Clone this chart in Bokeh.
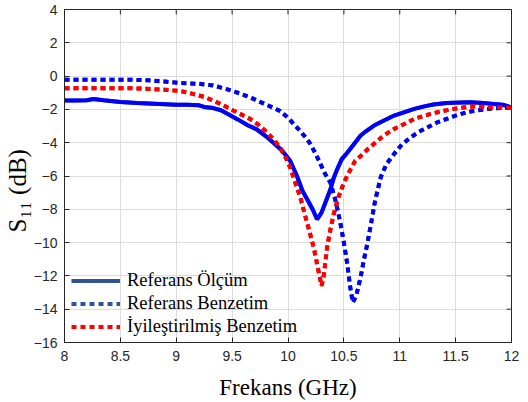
import math
from bokeh.plotting import figure
from bokeh.models import Range1d, Legend, LegendItem, FixedTicker, Title
from bokeh.embed import file_html
from bokeh.resources import INLINE

# ---------------- data ----------------
x_ticks = [8, 8.5, 9, 9.5, 10, 10.5, 11, 11.5, 12]
y_ticks = [4, 2, 0, -2, -4, -6, -8, -10, -12, -14, -16]

olcum_f = [8.0, 8.1, 8.2, 8.26, 8.35, 8.5, 8.65, 8.8, 9.0, 9.1, 9.2, 9.25, 9.33, 9.4,
           9.47, 9.55, 9.64, 9.72, 9.8, 9.87, 9.95, 10.02, 10.08, 10.13, 10.18, 10.22,
           10.26, 10.3, 10.34, 10.38, 10.41, 10.44, 10.48, 10.53, 10.6, 10.65, 10.7,
           10.77, 10.85, 10.95, 11.05, 11.13, 11.22, 11.3, 11.42, 11.55, 11.63, 11.75,
           11.84, 11.92, 12.0]
olcum_s = [-1.47, -1.47, -1.45, -1.38, -1.45, -1.55, -1.62, -1.66, -1.72, -1.72, -1.75,
           -1.85, -1.92, -2.05, -2.3, -2.6, -2.95, -3.2, -3.6, -4.0, -4.5, -5.1, -6.0,
           -6.9, -7.5, -8.0, -8.6, -8.2, -7.5, -6.8, -6.1, -5.6, -5.0, -4.6, -4.0,
           -3.57, -3.3, -2.97, -2.7, -2.37, -2.15, -1.97, -1.82, -1.71, -1.62, -1.58,
           -1.57, -1.62, -1.67, -1.72, -1.88]

ref_f = [8.0, 8.3, 8.6, 8.75, 8.9, 9.05, 9.2, 9.33, 9.45, 9.55, 9.66, 9.75, 9.85, 9.93,
         10.0, 10.05, 10.11, 10.16, 10.2, 10.25, 10.29, 10.33, 10.38, 10.43, 10.47, 10.5,
         10.53, 10.555, 10.58, 10.61, 10.65, 10.68, 10.71, 10.75, 10.78, 10.83, 10.88,
         10.95, 11.02, 11.1, 11.17, 11.25, 11.33, 11.42, 11.5, 11.6, 11.7, 11.78, 11.9, 12.0]
ref_s = [-0.22, -0.22, -0.22, -0.25, -0.33, -0.42, -0.46, -0.56, -0.78, -1.0, -1.27,
         -1.55, -1.85, -2.1, -2.5, -2.87, -3.3, -3.7, -4.07, -4.7, -5.27, -5.85, -6.4,
         -7.6, -8.87, -10.0, -11.27, -12.6, -13.6, -13.2, -12.08, -11.0, -10.07, -8.6,
         -7.47, -6.07, -5.3, -4.67, -4.1, -3.67, -3.35, -3.07, -2.8, -2.57, -2.37, -2.17,
         -2.05, -1.97, -1.92, -1.9]

iyi_f = [8.0, 8.3, 8.59, 8.77, 8.9, 9.04, 9.15, 9.25, 9.33, 9.42, 9.51, 9.58, 9.66, 9.73,
         9.8, 9.87, 9.93, 9.98, 10.02, 10.06, 10.11, 10.15, 10.19, 10.23, 10.26, 10.3,
         10.32, 10.35, 10.38, 10.41, 10.45, 10.5, 10.56, 10.6, 10.65, 10.72, 10.77, 10.85,
         10.95, 11.05, 11.13, 11.22, 11.3, 11.4, 11.48, 11.57, 11.66, 11.75, 11.84, 12.0]
iyi_s = [-0.73, -0.73, -0.73, -0.77, -0.82, -0.9, -1.07, -1.25, -1.47, -1.75, -2.07, -2.3,
         -2.57, -2.9, -3.3, -3.8, -4.3, -4.9, -5.5, -6.3, -7.27, -8.3, -9.27, -10.3,
         -11.27, -12.6, -12.0, -10.27, -9.2, -8.27, -7.3, -6.4, -5.6, -5.1, -4.8, -4.35,
         -4.07, -3.6, -3.17, -2.85, -2.57, -2.38, -2.23, -2.08, -1.97, -1.88, -1.83,
         -1.84, -1.87, -1.9]

legend_labels = ["Referans Ölçüm", "Referans Benzetim", "İyileştirilmiş Benzetim"]
x_title = "Frekans (GHz)"
y_title = "S\u2081\u2081 (dB)"

# ---------------- figure ----------------
AX = "#262626"
FW, FH = 447, 333
BL, BT, BR, BB = 64, 9, 9, 58
X0, X1 = x_ticks[0], x_ticks[-1]
Y0, Y1 = y_ticks[-1], y_ticks[0]

p = figure(frame_width=FW, frame_height=FH,
           min_border_left=BL, min_border_right=BR, min_border_top=BT, min_border_bottom=BB,
           x_range=Range1d(X0, X1), y_range=Range1d(Y0, Y1),
           output_backend="svg", toolbar_location=None)
p.background_fill_color = "white"
p.border_fill_color = "white"
p.outline_line_color = AX
p.outline_line_width = 1

xt = FixedTicker(ticks=x_ticks)
yt = FixedTicker(ticks=y_ticks)
for ax in (p.xaxis[0], p.yaxis[0]):
    ax.major_tick_in = 5
    ax.major_tick_out = 0
    ax.minor_tick_line_color = None
    ax.axis_line_color = AX
    ax.major_tick_line_color = AX
    ax.major_label_text_font = "Liberation Sans"
    ax.major_label_text_font_size = "14px"
    ax.major_label_text_color = AX
p.xaxis.ticker = xt
p.yaxis.ticker = yt
p.xaxis.major_label_standoff = 8
p.yaxis.major_label_standoff = 7

p.xaxis.axis_label = x_title
p.xaxis.axis_label_text_font = "Liberation Serif"
p.xaxis.axis_label_text_font_size = "23px"
p.xaxis.axis_label_text_font_style = "normal"
p.xaxis.axis_label_text_color = "black"
p.xaxis.axis_label_standoff = 11

# y title as a side-panel title (rotated), shifted along the axis
p.add_layout(Title(text=y_title, align="left", offset=110, standoff=0,
                   text_font="Liberation Serif", text_font_size="25px",
                   text_font_style="normal", text_color="black"), "left")

p.xgrid.ticker = xt
p.ygrid.ticker = yt
p.grid.grid_line_color = "#dcdcdc"
p.grid.grid_line_width = 1

# inward ticks on the top and right edges of the box
p.ray(x=x_ticks, y=[Y1] * len(x_ticks), length=5, length_units="screen",
      angle=-math.pi / 2, line_color=AX, line_width=1)
p.ray(x=[X1] * len(y_ticks), y=y_ticks, length=5, length_units="screen",
      angle=math.pi, line_color=AX, line_width=1)

# legend proxies in the legend colours, hidden under the real curves
l1 = p.line(olcum_f, olcum_s, line_color="#2f5597", line_width=4)
l2 = p.line(ref_f, ref_s, line_color="#2f5597", line_width=4, line_dash="5 4")
l3 = p.line(iyi_f, iyi_s, line_color="#ff0000", line_width=4, line_dash="5 4")

# ---------------- curves ----------------
p.line(olcum_f, olcum_s, line_color="#0000ff", line_width=4)
p.line(ref_f, ref_s, line_color="#0000ff", line_width=4, line_dash="5 4")
p.line(iyi_f, iyi_s, line_color="#ff0000", line_width=4, line_dash="5 4")

legend = Legend(items=[LegendItem(label=legend_labels[0], renderers=[l1]),
                       LegendItem(label=legend_labels[1], renderers=[l2]),
                       LegendItem(label=legend_labels[2], renderers=[l3])],
                location=(7, 4), orientation="vertical", padding=0, margin=0, spacing=0,
                glyph_width=49, glyph_height=23, label_height=23, label_standoff=7,
                label_text_font="Liberation Serif", label_text_font_size="18.5px",
                label_text_color="black", border_line_alpha=0, background_fill_alpha=0)
p.add_layout(legend)

open("out.html", "w").write(file_html(p, INLINE))
